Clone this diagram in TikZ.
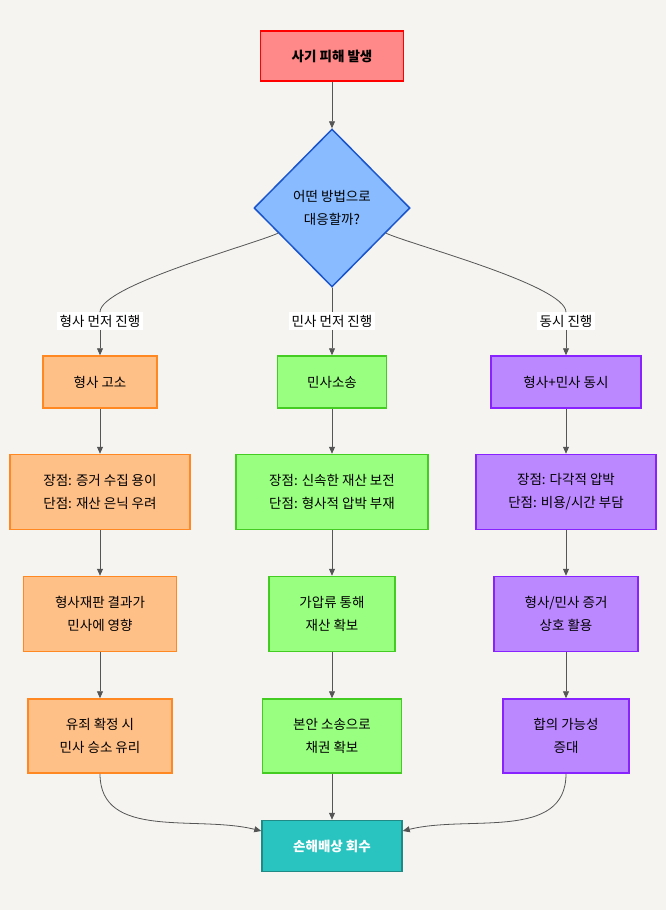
\documentclass[tikz,border=0pt]{standalone}
\usepackage{fontspec}
\setmainfont{Noto Sans CJK KR}
\usetikzlibrary{shapes.geometric,arrows.meta}

\definecolor{bgc}{HTML}{F5F4F0}
\definecolor{linec}{HTML}{555555}
\definecolor{topfill}{HTML}{FF8888}
\definecolor{decfill}{HTML}{88BBFF}
\definecolor{decline}{HTML}{1A55CC}
\definecolor{orfill}{HTML}{FFC088}
\definecolor{orline}{HTML}{FF8822}
\definecolor{grfill}{HTML}{99FF80}
\definecolor{grline}{HTML}{44CC22}
\definecolor{pufill}{HTML}{BB88FF}
\definecolor{puline}{HTML}{8822FF}
\definecolor{endfill}{HTML}{2AC4C0}
\definecolor{endline}{HTML}{1F8A86}

\begin{document}
\begin{tikzpicture}[x=1pt,y=1pt,
        font=\fontsize{13.5}{23}\selectfont,
        box/.style={draw,line width=1.5pt,align=center,inner sep=2pt},
        crim/.style={box,fill=orfill,draw=orline},
        civ/.style={box,fill=grfill,draw=grline},
        both/.style={box,fill=pufill,draw=puline},
        lab/.style={fill=white,inner sep=2.5pt},
        link/.style={draw=linec,line width=0.8pt},
        arr/.style={link,-{Triangle[length=7pt,width=6pt]}}]
    \useasboundingbox[fill=bgc] (0,0) rectangle (666,-910);

    % start and decision
    \node[box,fill=topfill,draw=red,font=\fontsize{13.5}{23}\selectfont\bfseries,
        minimum width=143,minimum height=50] (start) at (332,-56) {사기 피해 발생};
    \node[diamond,draw=decline,fill=decfill,line width=1.5pt,align=center,inner sep=0pt,
        minimum width=156,minimum height=158] (dec) at (332,-208) {어떤 방법으로\\대응할까?};

    % branch labels
    \node[lab] (lab1) at (100,-321) {형사 먼저 진행};
    \node[lab] (lab2) at (332,-321) {민사 먼저 진행};
    \node[lab] (lab3) at (566,-321) {동시 진행};

    % criminal first
    \node[crim,minimum width=114,minimum height=52] (c1) at (100,-382) {형사 고소};
    \node[crim,minimum width=180,minimum height=75] (c2) at (100,-492) {장점: 증거 수집 용이\\단점: 재산 은닉 우려};
    \node[crim,minimum width=153,minimum height=75] (c3) at (100,-614) {형사재판 결과가\\민사에 영향};
    \node[crim,minimum width=144,minimum height=74] (c4) at (100,-736) {유죄 확정 시\\민사 승소 유리};

    % civil first
    \node[civ,minimum width=109,minimum height=52] (v1) at (332,-382) {민사소송};
    \node[civ,minimum width=192,minimum height=75] (v2) at (332,-492) {장점: 신속한 재산 보전\\단점: 형사적 압박 부재};
    \node[civ,minimum width=126,minimum height=75] (v3) at (332,-614) {가압류 통해\\재산 확보};
    \node[civ,minimum width=139,minimum height=74] (v4) at (332,-736) {본안 소송으로\\채권 확보};

    % both at once
    \node[both,minimum width=150,minimum height=52] (b1) at (566,-382) {형사+민사 동시};
    \node[both,minimum width=180,minimum height=75] (b2) at (566,-492) {장점: 다각적 압박\\단점: 비용/시간 부담};
    \node[both,minimum width=144,minimum height=75] (b3) at (566,-614) {형사/민사 증거\\상호 활용};
    \node[both,minimum width=126,minimum height=74] (b4) at (566,-736) {합의 가능성\\증대};

    \node[box,fill=endfill,draw=endline,text=white,font=\fontsize{13.5}{23}\selectfont\bfseries,
        minimum width=140,minimum height=51] (goal) at (332,-846) {손해배상 회수};

    % connectors
    \draw[arr] (start) -- (dec);
    \draw[link] (dec.205) to[out=205,in=90,looseness=0.35] (lab1.north);
    \draw[link] (dec.south) -- (lab2.north);
    \draw[link] (dec.335) to[out=335,in=90,looseness=0.35] (lab3.north);
    \draw[arr] (lab1) -- (c1);
    \draw[arr] (lab2) -- (v1);
    \draw[arr] (lab3) -- (b1);
    \draw[arr] (c1) -- (c2);
    \draw[arr] (c2) -- (c3);
    \draw[arr] (c3) -- (c4);
    \draw[arr] (v1) -- (v2);
    \draw[arr] (v2) -- (v3);
    \draw[arr] (v3) -- (v4);
    \draw[arr] (b1) -- (b2);
    \draw[arr] (b2) -- (b3);
    \draw[arr] (b3) -- (b4);
    \draw[arr] (c4.south) to[out=-90,in=166] (goal.168);
    \draw[arr] (v4) -- (goal);
    \draw[arr] (b4.south) to[out=-90,in=14] (goal.12);
\end{tikzpicture}
\end{document}
